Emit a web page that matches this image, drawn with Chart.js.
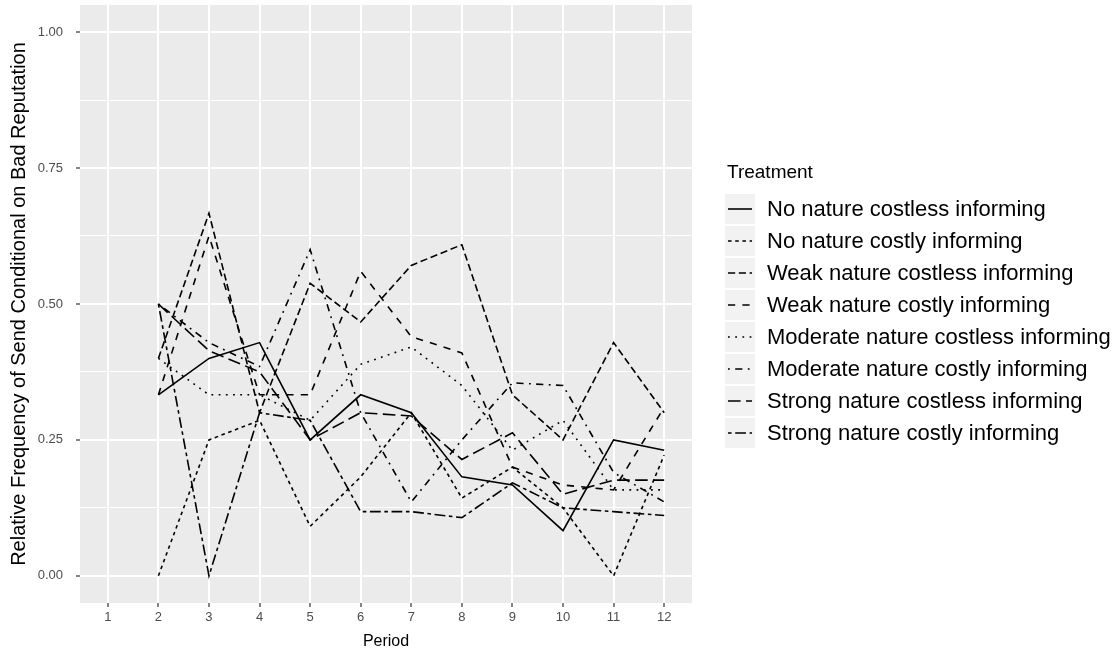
<!DOCTYPE html>
<html>
<head>
<meta charset="utf-8">
<script src="https://cdn.jsdelivr.net/npm/chart.js@4.4.1/dist/chart.umd.min.js"></script>
<style>
  html, body { margin: 0; padding: 0; background: #fff; }
  #wrap { position: relative; width: 1120px; height: 658px; font-family: "Liberation Sans", Arial, sans-serif; }
  #chart { position: absolute; left: 0; top: 0; }
  #legend { position: absolute; left: 725px; top: 160px; color: #000; }
  #legend .title { font-size: 19px; height: 33px; line-height: 24px; padding-left: 2px; }
  #legend .row { display: flex; align-items: center; height: 32px; }
  #legend .key { width: 30px; height: 30px; background: #f2f2f2; margin-right: 12px; }
  #legend .key svg { display: block; }
  #legend .lab { font-size: 22px; white-space: nowrap; }
</style>
</head>
<body>
<div id="wrap">
  <canvas id="chart" width="1120" height="658"></canvas>
  <div id="legend"></div>
</div>
<script>
// periods shown on the axis, and the periods that have data
const periods = [1, 2, 3, 4, 5, 6, 7, 8, 9, 10, 11, 12];
const dataPeriods = [2, 3, 4, 5, 6, 7, 8, 9, 10, 11, 12];
const yMajor = [0, 0.25, 0.5, 0.75, 1];
const yMinor = [0.125, 0.375, 0.625, 0.875];

const treatments = [
  "No nature costless informing",
  "No nature costly informing",
  "Weak nature costless informing",
  "Weak nature costly informing",
  "Moderate nature costless informing",
  "Moderate nature costly informing",
  "Strong nature costless informing",
  "Strong nature costly informing"
];

// relative frequency per period, periods 2..12
const noCostless       = [0.333, 0.400, 0.429, 0.250, 0.333, 0.300, 0.182, 0.167, 0.083, 0.250, 0.231];
const noCostly         = [0.000, 0.250, 0.286, 0.091, 0.182, 0.300, 0.143, 0.200, 0.125, 0.000, 0.222];
const weakCostless     = [0.400, 0.667, 0.300, 0.538, 0.467, 0.571, 0.609, 0.333, 0.250, 0.429, 0.300];
const weakCostly       = [0.333, 0.625, 0.333, 0.333, 0.560, 0.440, 0.410, 0.200, 0.167, 0.158, 0.310];
const moderateCostless = [0.400, 0.333, 0.333, 0.286, 0.389, 0.421, 0.350, 0.231, 0.286, 0.158, 0.158];
const moderateCostly   = [0.500, 0.429, 0.385, 0.600, 0.300, 0.136, 0.250, 0.355, 0.350, 0.190, 0.136];
const strongCostless   = [0.500, 0.414, 0.375, 0.250, 0.300, 0.294, 0.214, 0.263, 0.150, 0.176, 0.176];
const strongCostly     = [0.500, 0.000, 0.300, 0.286, 0.118, 0.118, 0.107, 0.171, 0.125, 0.118, 0.111];

const seriesValues = [noCostless, noCostly, weakCostless, weakCostly,
  moderateCostless, moderateCostly, strongCostless, strongCostly];

// ggplot-style line types, in units of the dash step
const U = 1.8;
const lineTypes = [[], [2, 2], [4, 2], [4, 4], [1, 3], [1, 3, 4, 3], [7, 3], [2, 2, 6, 2]];

const datasets = treatments.map((name, i) => ({
  label: name,
  data: dataPeriods.map((p, j) => ({ x: p, y: seriesValues[i][j] })),
  borderColor: "#000",
  borderWidth: 1.6,
  borderDash: lineTypes[i].map(v => v * U),
  borderCapStyle: "butt",
  pointRadius: 0,
  tension: 0,
  fill: false
}));

const panelBg = {
  id: "panelBg",
  beforeDraw(chart) {
    const a = chart.chartArea;
    const ctx = chart.ctx;
    ctx.save();
    ctx.fillStyle = "#ebebeb";
    ctx.fillRect(a.left, a.top, a.right - a.left, a.bottom - a.top);
    ctx.restore();
  }
};

const font = "'Liberation Sans', Arial, sans-serif";

new Chart(document.getElementById("chart"), {
  type: "line",
  data: { datasets },
  options: {
    responsive: false,
    animation: false,
    layout: { padding: { top: 5, right: 428, left: 0, bottom: 0 } },
    plugins: { legend: { display: false }, tooltip: { enabled: false } },
    scales: {
      x: {
        type: "linear",
        min: 0.45,
        max: 12.55,
        afterBuildTicks: s => { s.ticks = periods.map(v => ({ value: v })); },
        afterFit: s => { s.height = 55; s.paddingLeft = 0; s.paddingRight = 0; },
        ticks: { color: "#4d4d4d", font: { family: font, size: 13 }, padding: 3, maxRotation: 0,
          callback: v => String(v) },
        grid: { color: "#fff", lineWidth: 2, tickColor: "#333", tickLength: 4, tickWidth: 1.2 },
        border: { display: false },
        title: { display: true, text: "Period", color: "#000",
          font: { family: font, size: 16 }, padding: { top: 2, bottom: 7 } }
      },
      y: {
        type: "linear",
        min: -0.05,
        max: 1.05,
        afterBuildTicks: s => {
          s.ticks = yMajor.concat(yMinor).sort((a, b) => a - b).map(v => ({ value: v }));
        },
        afterFit: s => { s.width = 80; s.paddingTop = 0; s.paddingBottom = 0; },
        ticks: { color: "#4d4d4d", font: { family: font, size: 13 }, padding: 13,
          callback: v => yMajor.includes(v) ? v.toFixed(2) : "" },
        grid: {
          color: "#fff",
          lineWidth: c => yMajor.includes(c.tick.value) ? 2 : 1.1,
          tickColor: c => yMajor.includes(c.tick.value) ? "#333" : "rgba(0,0,0,0)",
          tickLength: 4,
          tickWidth: 1.2
        },
        border: { display: false },
        title: { display: true, text: "Relative Frequency of Send Conditional on Bad Reputation",
          color: "#000", font: { family: font, size: 20 }, padding: { top: 7, bottom: 0 } }
      }
    }
  },
  plugins: [panelBg]
});

// legend keys drawn with the same dash patterns as the lines
const legend = document.getElementById("legend");
legend.innerHTML = '<div class="title">Treatment</div>' + treatments.map((name, i) => {
  const dash = lineTypes[i].length ? lineTypes[i].map(v => v * U).join(",") : "none";
  return '<div class="row"><div class="key"><svg width="30" height="30">' +
    '<line x1="3" y1="15" x2="27" y2="15" stroke="#000" stroke-width="1.6" stroke-dasharray="' + dash + '"/>' +
    '</svg></div><div class="lab">' + name + '</div></div>';
}).join("");
</script>
</body>
</html>
